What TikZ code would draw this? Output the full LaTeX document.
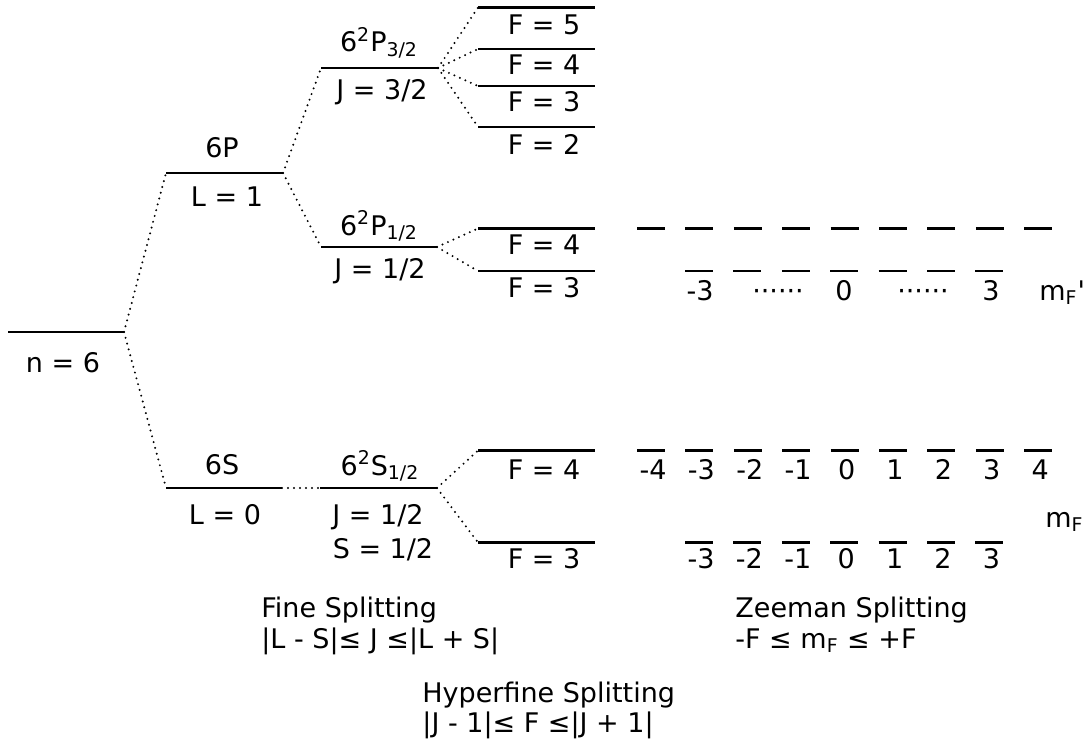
\documentclass[tikz,border=0pt]{standalone}
\usepackage{fontspec}
\setmainfont{DejaVu Sans}
\usepackage{tikz}
\usetikzlibrary{positioning,calc}

\begin{document}
\begin{tikzpicture}[x=0.5pt,y=-0.5pt,font=\fontsize{13.5}{16}\selectfont,
  lvl/.style={line width=1.15pt},
  link/.style={line width=1.1pt,line cap=round,dash pattern=on 0pt off 3pt},
  lab/.style={anchor=base,inner sep=0pt},
  note/.style={anchor=base west,inner sep=0pt}]
\useasboundingbox (0,0) rectangle (1089,744);

% energy levels
\foreach \nm/\xa/\xb/\y in {n6/8/124/332, p6/166/283/173, s6/166/282/488,
    p32/321/438/68, p12/321/437/247, s12/320/437/488,
    f5/478/595/7.5, f4/478/595/49, f3/478/595/86, f2/478/595/127,
    g4/478/595/228.5, g3/478/595/271, h4/478/595/450.5, h3/478/595/542.5} {
  \coordinate (\nm-l) at (\xa,\y);
  \coordinate (\nm-r) at (\xb,\y);
  \draw[lvl] (\nm-l) -- (\nm-r);
}

% splittings
\foreach \a/\b in {n6/p6,n6/s6,p6/p32,p6/p12,s6/s12,
    p32/f5,p32/f4,p32/f3,p32/f2,p12/g4,p12/g3,s12/h4,s12/h3}
  \draw[link] (\a-r) -- (\b-l);

\node[lab] (n6t) at (63,372) {n = 6};
\node[lab] (p6t) at (222,157) {6P};
\node[lab] (p6b) at (227,206) {L = 1};
\node[lab] (s6t) at (222,474) {6S};
\node[lab] (s6b) at (225,524) {L = 0};
\node[lab] (p32t) at (379,52) {6\textsuperscript{2}P\textsubscript{3/2}};
\node[lab] (p32b) at (382,99) {J = 3/2};
\node[lab] (p12t) at (379,235) {6\textsuperscript{2}P\textsubscript{1/2}};
\node[lab] (p12b) at (380,278) {J = 1/2};
\node[lab] (s12t) at (380,475) {6\textsuperscript{2}S\textsubscript{1/2}};
\node[lab] (s12b) at (378,524) {J = 1/2};
\node[lab] (s12c) at (383,558) {S = 1/2};

\foreach \nm/\v/\y in {f5/5/34, f4/4/75, f3/3/112, f2/2/154,
    g4/4/254, g3/3/297, h4/4/479, h3/3/568}
  \node[lab] (\nm-t) at (544,\y) {F = \v};

% Zeeman sublevels
\foreach \i in {0,...,8} {
  \draw[lvl] (637+48.4*\i,228.5) -- ++(28,0);
  \draw[lvl] (637+48.4*\i,450.5) -- ++(28,0);
}
\foreach \i in {0,...,6} {
  \draw[lvl] (685+48.4*\i,271) -- ++(28,0);
  \draw[lvl] (685+48.4*\i,542.5) -- ++(28,0);
}
\foreach \m [count=\i from 0] in {-4,-3,-2,-1,0,1,2,3,4}
  \node[lab] (mu\i) at (653+48.4*\i,479) {\m};
\foreach \m [count=\i from 0] in {-3,-2,-1,0,1,2,3}
  \node[lab] (ml\i) at (701+48.4*\i,568) {\m};

\node[lab] (me1) at (700,300) {-3};
\node[lab] (me2) at (778,300) {······};
\node[lab] (me3) at (844,300) {0};
\node[lab] (me4) at (923,300) {······};
\node[lab] (me5) at (991,300) {3};
\node[note] (mfe) at (1039,300) {m\textsubscript{F}\textquotesingle};
\node[note] (mfg) at (1045,527) {m\textsubscript{F}};

% captions
\node[note] (fine) at (261,617) {Fine Splitting};
\node[note] (fineq) at (261,648) {|L - S|≤ J ≤|L + S|};
\node[note] (zee) at (735,617) {Zeeman Splitting};
\node[note] (zeeq) at (735,648) {-F ≤ m\textsubscript{F} ≤ +F};
\node[note] (hyp) at (422,702) {Hyperfine Splitting};
\node[note] (hypq) at (422,732) {|J - 1|≤ F ≤|J + 1|};

\end{tikzpicture}
\end{document}
